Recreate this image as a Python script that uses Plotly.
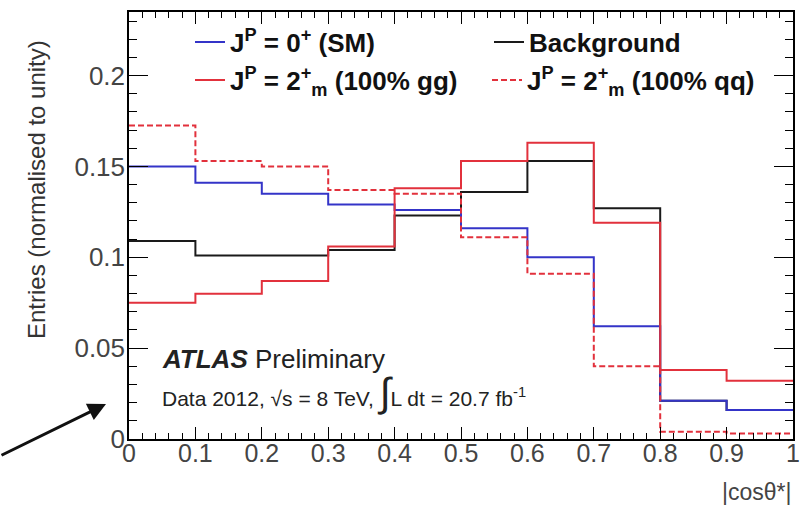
import plotly.graph_objects as go

# Bin edges of |cos theta*|
bin_edges = [0.0, 0.1, 0.2, 0.3, 0.4, 0.5, 0.6, 0.7, 0.8, 0.9, 1.0]

# Normalised entries per bin (10 bins)
sm_0plus = [0.150, 0.141, 0.135, 0.129, 0.126, 0.116, 0.100, 0.062, 0.021, 0.016]
background = [0.109, 0.101, 0.101, 0.104, 0.123, 0.136, 0.153, 0.127, 0.021, 0.016]
spin2_gg = [0.075, 0.080, 0.087, 0.106, 0.138, 0.153, 0.163, 0.119, 0.038, 0.032]
spin2_qq = [0.1725, 0.153, 0.150, 0.137, 0.135, 0.111, 0.091, 0.040, 0.004, 0.003]

x_tickvals = [0, 0.1, 0.2, 0.3, 0.4, 0.5, 0.6, 0.7, 0.8, 0.9, 1.0]
x_ticktext = ["0", "0.1", "0.2", "0.3", "0.4", "0.5", "0.6", "0.7", "0.8", "0.9", "1"]
y_tickvals = [0, 0.05, 0.1, 0.15, 0.2]
y_ticktext = ["0", "0.05", "0.1", "0.15", "0.2"]

FONT = "Liberation Sans, Arial, Helvetica, sans-serif"
BLUE = "#3434c8"
RED = "#e2313c"
BLACK = "#1a1a1a"


def step_y(vals):
    return list(vals) + [vals[-1]]


fig = go.Figure()

fig.add_trace(go.Scatter(
    x=bin_edges, y=step_y(background), mode="lines", line_shape="hv", showlegend=True,
    line=dict(color=BLACK, width=2), name="<b>Background</b>", legend="legend2"))
fig.add_trace(go.Scatter(
    x=bin_edges, y=step_y(sm_0plus), mode="lines", line_shape="hv", showlegend=True,
    line=dict(color=BLUE, width=2), name="<b>J<sup>P</sup> = 0<sup>+</sup> (SM)</b>", legend="legend"))
fig.add_trace(go.Scatter(
    x=bin_edges, y=step_y(spin2_gg), mode="lines", line_shape="hv", showlegend=True,
    line=dict(color=RED, width=2), name="<b>J<sup>P</sup> = 2<sup>+</sup><sub>m</sub> (100% gg)</b>", legend="legend3"))
fig.add_trace(go.Scatter(
    x=bin_edges, y=step_y(spin2_qq), mode="lines", line_shape="hv", showlegend=True,
    line=dict(color=RED, width=2, dash="6px,3px"), name="<b>J<sup>P</sup> = 2<sup>+</sup><sub>m</sub> (100% qq)</b>", legend="legend4"))

# plot area: left 129, right 793, top 12, bottom 439
L, R, T, B = 129, 11, 12, 67
W, H = 804, 506
pw, ph = W - L - R, H - T - B


def px(x):
    return (x - L) / pw


def py(y):
    return (H - B - y) / ph


legend_common = dict(bgcolor="rgba(0,0,0,0)", borderwidth=0, xanchor="left", yanchor="middle",
                     font=dict(family=FONT, size=26, color="#111"), itemwidth=30,
                     tracegroupgap=0, itemclick=False, visible=True)

fig.update_layout(
    width=W, height=H, showlegend=True,
    margin=dict(l=L, r=R, t=T, b=B, autoexpand=False),
    paper_bgcolor="white", plot_bgcolor="white",
    font=dict(family=FONT, color="#333"),
    legend=dict(x=px(190), y=py(42), **legend_common),
    legend2=dict(x=px(489), y=py(42), **legend_common),
    legend3=dict(x=px(190), y=py(80), **legend_common),
    legend4=dict(x=px(487), y=py(80), **legend_common),
)

fig.update_xaxes(
    range=[0, 1], showgrid=False, zeroline=False,
    showline=True, linecolor="black", linewidth=1.5, mirror="allticks",
    ticks="inside", ticklen=12, tickwidth=1.2, tickcolor="black",
    tickvals=x_tickvals, ticktext=x_ticktext, ticklabeloverflow="allow",
    ticklabelstandoff=-9,
    tickfont=dict(family=FONT, size=25, color="#444"),
    minor=dict(dtick=0.02, ticks="inside", ticklen=6, tickwidth=1, tickcolor="black"),
)
fig.update_yaxes(
    range=[0, 0.235], showgrid=False, zeroline=False,
    showline=True, linecolor="black", linewidth=1.5, mirror="allticks",
    ticks="inside", ticklen=19, tickwidth=1.2, tickcolor="black",
    tickvals=y_tickvals, ticktext=y_ticktext, ticklabelstandoff=-3,
    tickfont=dict(family=FONT, size=26, color="#444"),
    minor=dict(dtick=0.01, ticks="inside", ticklen=8, tickwidth=1, tickcolor="black"),
)

# y-axis title (ROOT style, aligned towards the top)
fig.add_annotation(
    xref="paper", yref="paper", x=px(36), y=py(190), xanchor="center", yanchor="middle",
    textangle=-90, showarrow=False, font=dict(family=FONT, size=24, color="#333"),
    text="Entries (normalised to unity)")
fig.add_annotation(
    xref="paper", yref="paper", x=px(160), y=py(359), xanchor="left", yanchor="middle",
    showarrow=False, font=dict(family=FONT, size=26, color="#222"),
    text="<b><i>ATLAS</i></b> Preliminary")
fig.add_annotation(
    xref="paper", yref="paper", x=px(160), y=py(392), xanchor="left", yanchor="middle",
    showarrow=False, font=dict(family=FONT, size=21, color="#222"),
    text="Data 2012, √s = 8 TeV, <span style='font-size:40px'>∫</span>L dt = 20.7 fb<sup>-1</sup>")
fig.add_annotation(
    xref="paper", yref="paper", x=px(793), y=py(492), xanchor="right", yanchor="middle",
    showarrow=False, font=dict(family=FONT, size=23, color="#444"),
    text="|cosθ*|")
# hand-drawn arrow pointing at the annotation
fig.add_annotation(
    xref="paper", yref="paper", x=px(106), y=py(404), text="",
    showarrow=True, arrowhead=2, arrowsize=1.2, arrowwidth=3, arrowcolor="#111",
    ax=-108, ay=52)

fig.write_html("out.html", config={"displayModeBar": False},
               post_script="document.body.style.margin='0px';")
